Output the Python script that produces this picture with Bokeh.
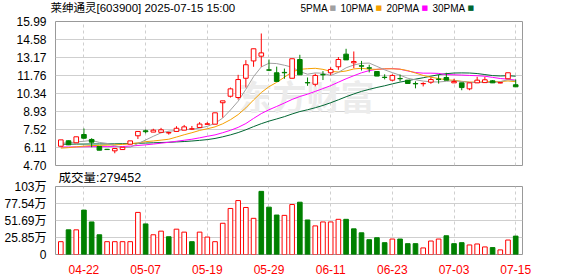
from bokeh.plotting import figure
from bokeh.models import Range1d, FixedTicker, Label, ColumnDataSource, Grid
from bokeh.layouts import column
from bokeh.embed import file_html
from bokeh.resources import INLINE

# ---------------- data ----------------
dates = ["04-17", "04-18", "04-21", "04-22", "04-23", "04-24", "04-25", "04-28", "04-29", "04-30",
         "05-06", "05-07", "05-08", "05-09", "05-12", "05-13", "05-14", "05-15", "05-16", "05-19",
         "05-20", "05-21", "05-22", "05-23", "05-26", "05-27", "05-28", "05-29", "05-30", "06-03",
         "06-04", "06-05", "06-06", "06-09", "06-10", "06-11", "06-12", "06-13", "06-16", "06-17",
         "06-18", "06-19", "06-20", "06-23", "06-24", "06-25", "06-26", "06-27", "06-30", "07-01",
         "07-02", "07-03", "07-04", "07-07", "07-08", "07-09", "07-10", "07-11", "07-14", "07-15"]
tick_dates = ["04-22", "05-07", "05-19", "05-29", "06-11", "06-23", "07-03", "07-15"]

opens = [6.21, 6.64, 6.48, 7.13, 6.74, 6.19, 5.97, 5.85, 5.95, 6.37,
         7.03, 7.42, 7.32, 7.30, 7.25, 7.37, 7.47, 7.55, 7.68, 7.93,
         7.94, 9.62, 10.13, 10.03, 11.54, 12.90, 13.27, 12.20, 11.97, 12.00,
         11.54, 13.01, 11.20, 11.07, 11.83, 11.97, 12.44, 13.43, 12.75, 12.52,
         12.36, 12.07, 11.62, 11.39, 11.52, 11.39, 11.13, 11.11, 11.23, 11.47,
         11.60, 11.18, 11.18, 10.71, 11.18, 11.20, 11.34, 11.17, 11.50, 11.03]
highs = [6.71, 6.66, 6.95, 7.60, 6.84, 6.19, 6.00, 6.03, 6.13, 6.63,
         7.37, 7.52, 7.58, 7.65, 7.35, 7.78, 7.88, 7.80, 8.10, 8.10,
         8.83, 9.77, 10.81, 11.81, 12.96, 13.85, 15.05, 13.01, 12.45, 12.30,
         13.07, 13.38, 11.60, 11.90, 12.10, 12.40, 13.20, 13.85, 13.64, 12.90,
         12.60, 12.07, 11.85, 11.85, 11.83, 11.39, 11.30, 11.22, 11.60, 11.82,
         11.97, 11.50, 11.18, 11.18, 11.65, 11.65, 11.40, 11.22, 11.97, 11.44]
lows = [6.21, 6.30, 6.48, 6.79, 6.13, 5.90, 5.93, 5.66, 5.95, 6.37,
        6.78, 7.22, 7.32, 7.30, 7.12, 7.37, 7.47, 7.48, 7.68, 7.90,
        7.94, 8.46, 10.03, 9.87, 10.81, 12.44, 12.44, 12.10, 11.29, 11.50,
        11.54, 11.81, 10.95, 10.90, 11.40, 11.78, 12.20, 12.98, 12.33, 12.15,
        12.00, 11.71, 11.45, 11.30, 11.30, 11.13, 10.75, 10.90, 11.10, 11.12,
        11.39, 11.18, 10.60, 10.60, 11.18, 11.20, 11.18, 11.15, 11.50, 10.87]
closes = [6.71, 6.32, 6.95, 6.84, 6.53, 5.90, 5.95, 6.03, 6.13, 6.63,
          7.37, 7.35, 7.47, 7.50, 7.28, 7.62, 7.73, 7.58, 7.95, 7.97,
          8.83, 9.77, 10.71, 11.44, 12.60, 13.85, 13.53, 12.17, 11.29, 11.97,
          13.07, 11.81, 11.18, 11.76, 11.81, 12.23, 13.01, 12.98, 12.85, 12.49,
          12.33, 11.71, 11.60, 11.76, 11.50, 11.13, 11.10, 11.13, 11.44, 11.45,
          11.39, 11.29, 10.81, 11.18, 11.39, 11.42, 11.18, 11.20, 11.97, 10.87]
# volume in 万 (10k shares)
volumes = [19.5, 37.5, 37.5, 67.5, 49.5, 30.0, 19.5, 19.5, 19.5, 19.5,
           64.0, 46.5, 30.0, 35.5, 27.0, 38.5, 34.0, 19.5, 34.0, 26.5,
           19.5, 47.5, 70.0, 82.0, 71.5, 55.0, 96.0, 72.0, 60.0, 59.5,
           76.0, 79.5, 52.5, 43.5, 49.5, 49.5, 53.5, 53.5, 39.0, 33.0,
           22.5, 25.5, 18.0, 23.5, 23.5, 16.5, 16.5, 10.0, 20.5, 23.5,
           28.5, 16.5, 18.0, 14.5, 16.0, 11.5, 10.5, 7.0, 22.0, 27.9452]
ma5 = [6.45, 6.47, 6.55, 6.60, 6.67, 6.51, 6.43, 6.25, 6.11, 6.13,
       6.42, 6.70, 6.99, 7.26, 7.39, 7.44, 7.52, 7.54, 7.63, 7.77,
       8.01, 8.42, 9.05, 9.74, 10.67, 11.67, 12.43, 12.72, 12.69, 12.56,
       12.41, 12.06, 11.86, 11.96, 11.93, 11.76, 12.00, 12.36, 12.58, 12.71,
       12.73, 12.47, 12.20, 11.98, 11.78, 11.54, 11.42, 11.32, 11.26, 11.25,
       11.30, 11.34, 11.28, 11.22, 11.21, 11.22, 11.20, 11.27, 11.43, 11.33]
ma10 = [6.06, 6.10, 6.16, 6.22, 6.26, 6.28, 6.30, 6.32, 6.35, 6.40,
        6.47, 6.57, 6.62, 6.69, 6.76, 6.93, 7.11, 7.27, 7.45, 7.58,
        7.73, 7.97, 8.29, 8.69, 9.22, 9.84, 10.42, 10.88, 11.22, 11.62,
        12.04, 12.24, 12.29, 12.32, 12.24, 12.08, 12.03, 12.11, 12.27, 12.32,
        12.25, 12.24, 12.28, 12.28, 12.25, 12.14, 11.95, 11.76, 11.62, 11.52,
        11.42, 11.38, 11.30, 11.24, 11.23, 11.26, 11.27, 11.28, 11.33, 11.27]
ma20 = [6.15, 6.15, 6.16, 6.17, 6.18, 6.18, 6.18, 6.18, 6.19, 6.22,
        6.27, 6.32, 6.38, 6.45, 6.52, 6.60, 6.68, 6.76, 6.87, 6.99,
        7.10, 7.27, 7.46, 7.69, 7.99, 8.39, 8.77, 9.07, 9.33, 9.60,
        9.88, 10.11, 10.29, 10.51, 10.73, 10.96, 11.23, 11.50, 11.74, 11.97,
        12.14, 12.24, 12.28, 12.30, 12.25, 12.11, 11.99, 11.94, 11.94, 11.92,
        11.83, 11.81, 11.79, 11.76, 11.74, 11.70, 11.61, 11.52, 11.47, 11.39]
ma30 = [6.37, 6.37, 6.38, 6.38, 6.39, 6.39, 6.39, 6.40, 6.41, 6.42,
        6.44, 6.46, 6.48, 6.50, 6.52, 6.55, 6.58, 6.62, 6.67, 6.73,
        6.82, 6.95, 7.10, 7.28, 7.50, 7.75, 7.98, 8.18, 8.35, 8.53,
        8.74, 8.93, 9.07, 9.23, 9.41, 9.62, 9.85, 10.09, 10.31, 10.51,
        10.67, 10.82, 10.95, 11.10, 11.24, 11.35, 11.47, 11.58, 11.70, 11.82,
        11.90, 11.95, 11.96, 11.95, 11.91, 11.83, 11.75, 11.72, 11.74, 11.70]
price_ticks = [4.70, 6.11, 7.52, 8.93, 10.34, 11.76, 13.17, 14.58, 15.99]
vol_ticks = [0, 25.85, 51.69, 77.54, 103.4]
vol_tick_labels = ["0", "25.85万", "51.69万", "77.54万", "103万"]
title_text = "莱绅通灵[603900] 2025-07-15 15:00"
vol_text = "成交量:279452"
ma_names = ["5PMA", "10PMA", "20PMA", "30PMA"]

# ---------------- styles ----------------
RED = "#ff0000"
GREEN = "#008000"
MA_COLORS = ["#a0a0a0", "#f5a000", "#ff00ff", "#006633"]
GRID = "#cfcfcf"
FRAME = "#999999"
NUM_FONT = "'Liberation Sans', 'Noto Sans CJK SC'"
CJK_FONT = "'Noto Sans CJK SC'"

n = len(dates)
xs = list(range(n))
up = [c >= o for o, c in zip(opens, closes)]
col = [RED if u else GREEN for u in up]
fill = ["#ffffff" if u else GREEN for u in up]
vup = [True] + [closes[i] >= closes[i - 1] for i in range(1, n)]
vcol = [RED if u else GREEN for u in vup]
vfill = ["#ffffff" if u else GREEN for u in vup]

src = ColumnDataSource(dict(
    x=xs, o=opens, h=highs, l=lows, c=closes,
    bt=[max(o, c) for o, c in zip(opens, closes)],
    bb=[min(o, c) for o, c in zip(opens, closes)],
    col=col, fill=fill, v=volumes, vcol=vcol, vfill=vfill,
    ma5=ma5, ma10=ma10, ma20=ma20, ma30=ma30,
))

tick_idx = [dates.index(d) for d in tick_dates]
xr = Range1d(-0.69, 59.88)


def drop_grids(p):
    for r in list(p.center):
        if isinstance(r, Grid):
            p.center.remove(r)


def style_frame(p):
    p.outline_line_color = FRAME
    p.outline_line_width = 1
    p.background_fill_color = "#ffffff"
    p.border_fill_color = "#ffffff"
    drop_grids(p)


def style_yaxis(ax, ticks, labels):
    ax.ticker = FixedTicker(ticks=ticks)
    ax.major_label_overrides = {t: s for t, s in zip(ticks, labels)}
    ax.axis_line_color = None
    ax.major_tick_line_color = None
    ax.minor_tick_line_color = None
    ax.major_label_standoff = 3
    ax.major_label_text_font_size = "12px"
    ax.major_label_text_font = NUM_FONT
    ax.major_label_text_color = "#000000"


# ---------------- header strip (title + MA legend) ----------------
HEAD_H = 14
p0 = figure(width=578, height=HEAD_H, x_range=Range1d(0, 578), y_range=Range1d(0, HEAD_H),
            output_backend="svg", toolbar_location=None, x_axis_location=None,
            y_axis_location=None, min_border_left=0, min_border_right=0,
            min_border_top=0, min_border_bottom=0)
p0.frame_align = False
p0.title = None
p0.outline_line_color = None
p0.background_fill_color = "#ffffff"
p0.border_fill_color = "#ffffff"
drop_grids(p0)
head_y = 6.5
p0.add_layout(Label(x=50, y=head_y, x_units="screen", y_units="screen", text=title_text,
                    text_baseline="middle", text_font=NUM_FONT, text_font_size="11.5px",
                    text_color="#000000"))
text_left = [300, 340, 386, 432]
sq_left = [329, 375, 421, 467]
for nm, colr, tl, sl in zip(ma_names, MA_COLORS, text_left, sq_left):
    p0.add_layout(Label(x=tl, y=head_y, x_units="screen", y_units="screen", text=nm,
                        text_baseline="middle", text_font=NUM_FONT, text_font_size="10px",
                        text_color="#000000"))
    p0.add_layout(Label(x=sl, y=head_y, x_units="screen", y_units="screen", text="■",
                        text_baseline="middle", text_font="'DejaVu Sans'",
                        text_font_size="7px", text_color=colr))

# ---------------- price panel ----------------
p1 = figure(width=578, height=172 - HEAD_H, x_range=xr, y_range=Range1d(4.70, 15.99),
            output_backend="svg", toolbar_location=None, x_axis_location=None,
            min_border_left=55, min_border_right=56, min_border_top=21 - HEAD_H,
            min_border_bottom=7)
p1.title = None
style_frame(p1)
p1.add_layout(Grid(dimension=1, ticker=FixedTicker(ticks=price_ticks),
                   grid_line_color=GRID, grid_line_width=1))
p1.add_layout(Grid(dimension=0, ticker=FixedTicker(ticks=tick_idx),
                   grid_line_color=GRID, grid_line_dash="3 3", grid_line_width=1))
style_yaxis(p1.yaxis[0], price_ticks, ["%.2f" % t for t in price_ticks])

p1.add_layout(Label(x=251, y=70, x_units="screen", y_units="screen", text="东方财富",
                    text_align="center", text_baseline="middle", text_font=CJK_FONT,
                    text_font_size="34px", text_font_style="bold", text_color="#ececec",
                    level="underlay"))

for name, colr in zip(["ma30", "ma20", "ma10", "ma5"], MA_COLORS[::-1]):
    p1.line("x", name, source=src, line_color=colr, line_width=1)

p1.segment(x0="x", y0="h", x1="x", y1="l", line_color="col", line_width=1, source=src)
p1.vbar(x="x", width=0.6, top="bt", bottom="bb", fill_color="fill", line_color="col",
        line_width=1, source=src)

# ---------------- volume panel ----------------
p2 = figure(width=578, height=104, x_range=xr, y_range=Range1d(0, 103.4),
            output_backend="svg", toolbar_location=None,
            min_border_left=55, min_border_right=56, min_border_top=14, min_border_bottom=21)
p2.title = None
style_frame(p2)
p2.add_layout(Grid(dimension=1, ticker=FixedTicker(ticks=vol_ticks),
                   grid_line_color=GRID, grid_line_width=1))
p2.add_layout(Grid(dimension=0, ticker=FixedTicker(ticks=tick_idx),
                   grid_line_color=GRID, grid_line_dash="3 3", grid_line_width=1))
style_yaxis(p2.yaxis[0], vol_ticks, vol_tick_labels)
xa2 = p2.xaxis[0]
xa2.ticker = FixedTicker(ticks=tick_idx)
xa2.major_label_overrides = {i: d for i, d in zip(tick_idx, tick_dates)}
xa2.axis_line_color = None
xa2.major_tick_line_color = None
xa2.minor_tick_line_color = None
xa2.major_label_standoff = 4
xa2.major_label_text_font_size = "12px"
xa2.major_label_text_font = NUM_FONT
xa2.major_label_text_color = RED

p2.vbar(x="x", width=0.6, top="v", bottom=0, fill_color="vfill", line_color="vcol",
        line_width=1, source=src)
# volume caption sits in the band above the volume frame
p2.add_layout(Label(x=3, y=9, x_units="screen", y_units="screen", text=vol_text,
                    text_baseline="middle", text_font=NUM_FONT, text_font_size="12.5px",
                    text_color="#000000"), "above")

layout = column(p0, p1, p2, spacing=0)
open("out.html", "w").write(file_html(layout, INLINE))
